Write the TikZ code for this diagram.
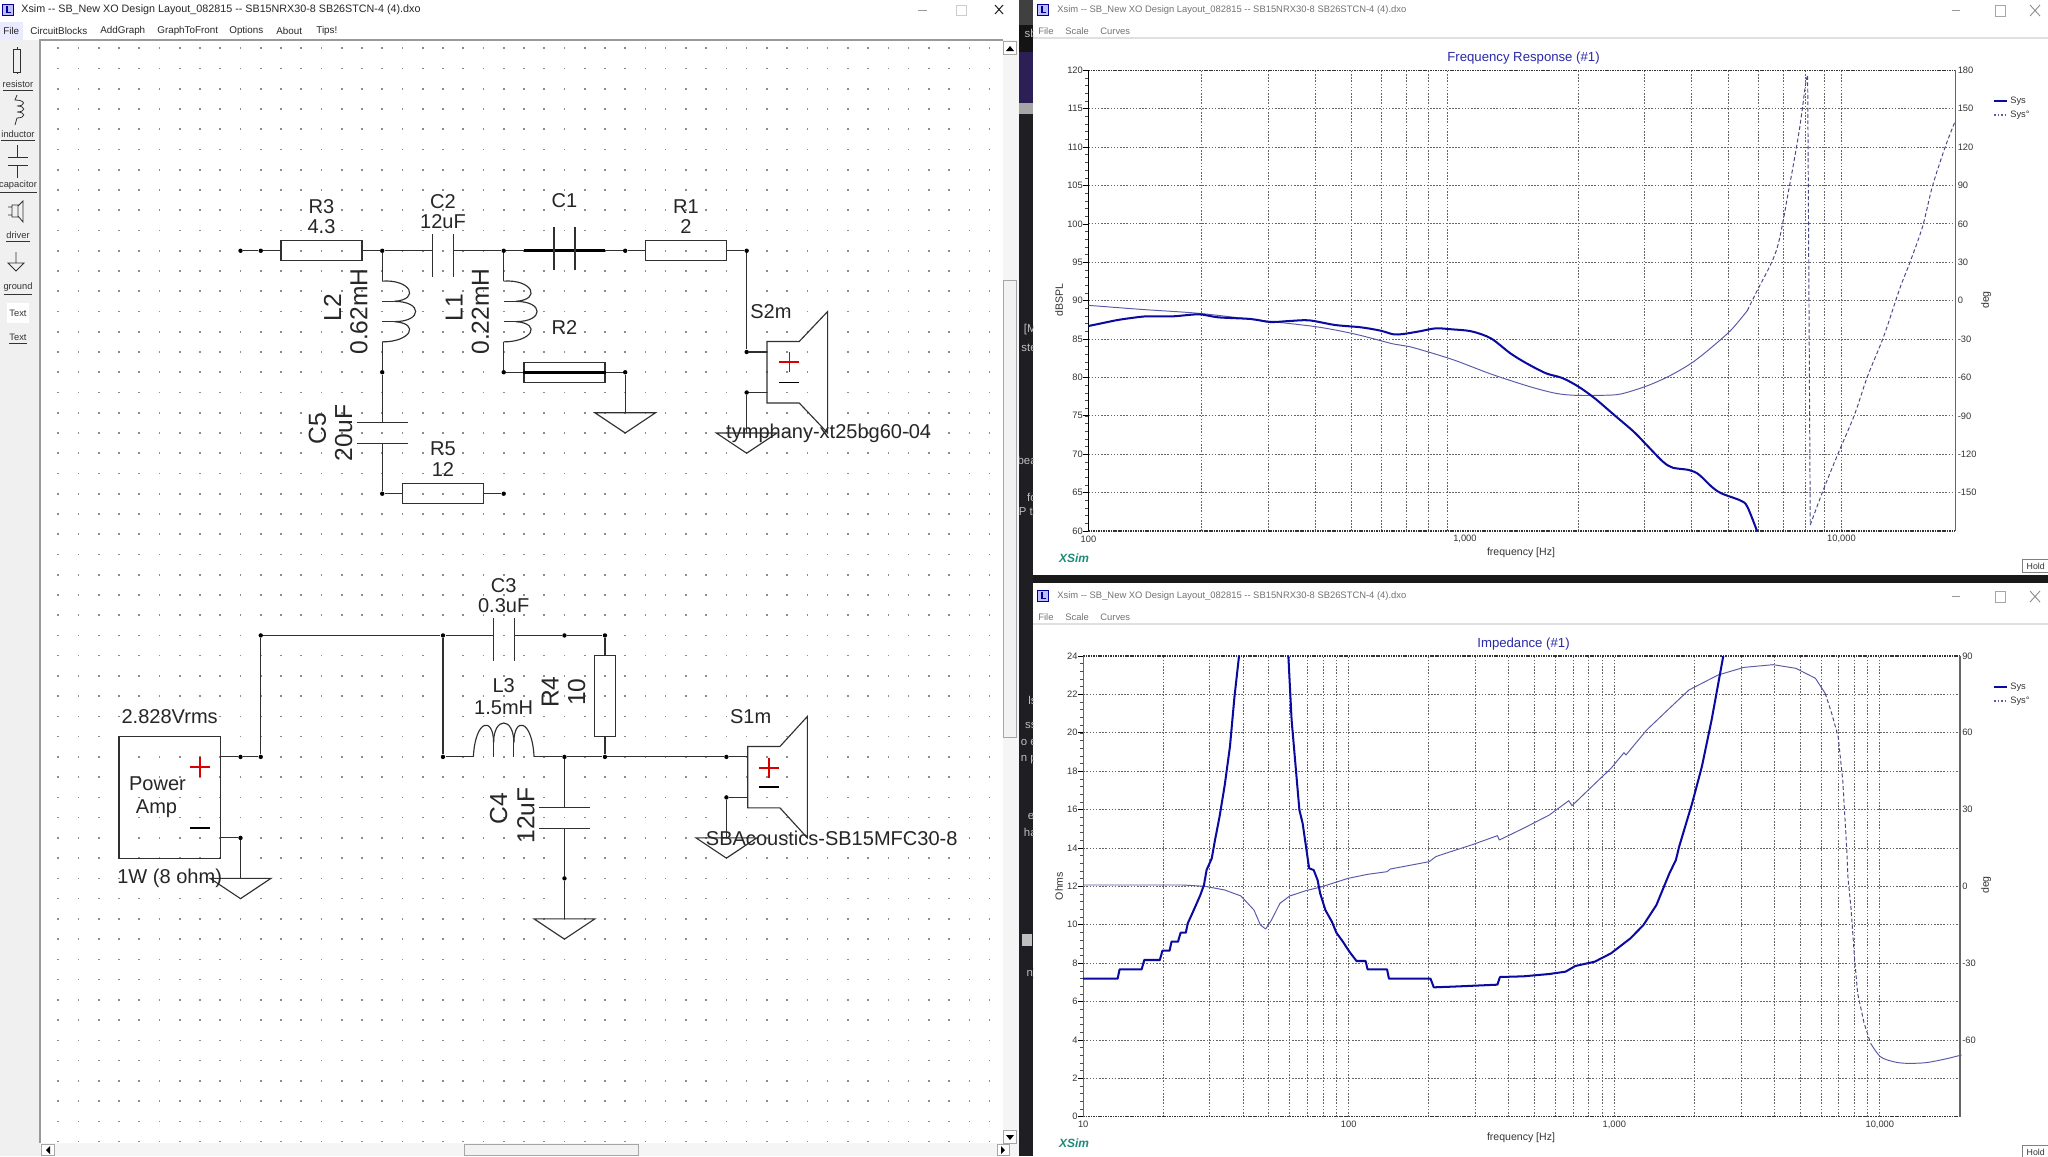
\documentclass[tikz,border=0pt]{standalone}
\usepackage{fontspec}
\setmainfont{Liberation Sans}
\newcommand\fpx[1]{\fontsize{#1}{#1}\selectfont}
\newcommand\wintitle{Xsim -{}- SB\_New XO Design Layout\_082815 -{}- SB15NRX30-8 SB26STCN-4 (4).dxo}
\definecolor{wirecol}{HTML}{303030}
\definecolor{sysblue}{HTML}{0A0AA0}
\definecolor{phaseblue}{HTML}{5A5AA8}
\definecolor{titleblue}{HTML}{2A2AA8}
\definecolor{xsimgreen}{HTML}{1C8C78}
\definecolor{stripdark}{HTML}{1E1E23}
\definecolor{stripviolet}{HTML}{2B1F55}
\tikzstyle{wire} = [line width=0.65pt,draw=wirecol]
\tikzstyle{heavywire} = [line width=1.9pt,draw=black]
\tikzstyle{joint} = [circle,fill=black,minimum size=2.5pt,inner sep=0pt]
\tikzstyle{griddot} = [fill=black!45]
\tikzstyle{resistor} = [rectangle,draw=wirecol,line width=0.65pt,minimum width=1.62cm,minimum height=0.405cm,inner sep=0pt]
\tikzstyle{resistorv} = [rectangle,draw=wirecol,line width=0.65pt,minimum width=0.405cm,minimum height=1.62cm,inner sep=0pt]
\tikzstyle{capacitor} = [rectangle,minimum width=0.405cm,minimum height=0.85cm,inner sep=0pt]
\tikzstyle{capacitorh} = [rectangle,minimum width=1.01cm,minimum height=0.405cm,inner sep=0pt]
\tikzstyle{coil} = [rectangle,minimum width=0.3cm,minimum height=1.215cm,inner sep=0pt]
\tikzstyle{coilh} = [rectangle,minimum width=1.215cm,minimum height=0.3cm,inner sep=0pt]
\tikzstyle{driverbox} = [rectangle,minimum width=0.63cm,minimum height=1.215cm,inner sep=0pt]
\tikzstyle{ampbox} = [rectangle,draw=wirecol,line width=0.65pt,minimum width=2.025cm,minimum height=2.43cm,inner sep=0pt]
\tikzstyle{lab} = [inner sep=0pt,text=black!85,font=\fpx{11.4}]
\tikzstyle{rotlab} = [inner sep=0pt,text=black!85,rotate=90,font=\fpx{14}]
\tikzstyle{menutext} = [anchor=west,inner sep=0pt,text=black!85,font=\fpx{5.6}]
\tikzstyle{wintext} = [anchor=west,inner sep=0pt,text=black!85,font=\fpx{6.12}]
\tikzstyle{toollab} = [inner sep=0pt,text=black!80,font=\fpx{5.3}]
\tikzstyle{greytitle} = [anchor=west,inner sep=0pt,text=black!55,font=\fpx{5.35}]
\tikzstyle{tick} = [inner sep=0pt,text=black!80,font=\fpx{5.3}]
\tikzstyle{axislab} = [inner sep=0pt,text=black!80,font=\fpx{6}]
\tikzstyle{plottitle} = [inner sep=0pt,text=titleblue,font=\fpx{7.5}]
\tikzstyle{xsimlab} = [inner sep=0pt,text=xsimgreen,font=\fpx{6.8}\bfseries\itshape]
\tikzstyle{gridline} = [line width=0.45pt,draw=black!60,dash pattern=on 0.9pt off 0.9pt]
\tikzstyle{frameline} = [line width=0.7pt,draw=black!80,dash pattern=on 0.9pt off 0.5pt]
\tikzstyle{syscurve} = [line width=1.15pt,draw=sysblue,line join=round]
\tikzstyle{phasecurve} = [line width=0.55pt,draw=phaseblue,line join=round]
\tikzstyle{phasedash} = [line width=0.55pt,draw=phaseblue!80!black,dash pattern=on 2.2pt off 1.4pt]
\tikzstyle{holdbox} = [rectangle,draw=black!50,fill=white,line width=0.5pt,inner sep=1.2pt,minimum width=0.55cm,minimum height=0.27cm,font=\fpx{5},text=black!80]
\tikzstyle{scrollbtn} = [rectangle,draw=black!35,fill=black!5,line width=0.5pt,inner sep=0pt]
\tikzstyle{plotframe} = [x=0.012987cm,y=-0.006667cm]
\begin{document}
\begin{tikzpicture}[x=0.02cm,y=-0.02cm]
\useasboundingbox (0,0) rectangle (2048,1156);

\fill[white] (0,0) rectangle (2048,1156);
\fill[black!6] (0,40) rectangle (40,1156);
\fill[black!4] (40,1143) rectangle (1019,1156);
\fill[black!4] (1003,40) rectangle (1019,1143);
\fill[blue!8] (0,22) rectangle (23,40);

%strip behind the windows
\fill[stripdark] (1019,0) rectangle (1033,1156);
\fill[black!75] (1019,0) rectangle (1033,25);
\fill[black!92] (1019,25) rectangle (1033,52);
\fill[stripviolet] (1019,52) rectangle (1033,103);
\fill[black!35] (1019,103) rectangle (1033,114);
\begin{scope}
\clip (1019,0) rectangle (1033,1156);
\foreach \t/\y/\n in {sb/33/1,{[M}/330/2,ste/348/3,bea/460/4,fo/497/5,P tr/512/6,ls/700/7,ss/725/8,o e/742/9,n p/760/10,el/815/11,ha/832/12,n)/974/13}
 \node (frag\n) [anchor=east,inner sep=0pt,text=black!25,font=\fpx{6.5}] at (1037,\y) {\t};
\end{scope}
\fill[black!25] (1022,934) rectangle (1032,946);

\fill[black!90] (1033,575) rectangle (2048,583);

%window heads
\foreach \wx/\wy/\n in {8/10/1,1043/10/2,1043/596/3} {
 \node (icon\n) [rectangle,draw=blue!60!black,fill=blue!25,minimum size=0.22cm,inner sep=0pt] at (\wx,\wy) {};
 \draw[blue!60!black,line width=0.7pt] (icon\n.north) ++(-1,2) -- ++(0,6) -- ++(4,0);
}
\node (title1) [wintext] at (21,10) {\wintitle};
\node (title2) [greytitle] at (1057,10) {\wintitle};
\node (title3) [greytitle] at (1057,596) {\wintitle};
\foreach \t/\x in {File/3,CircuitBlocks/30,AddGraph/100,GraphToFront/157,Options/229,About/276,Tips!/316}
 \node (menu\x) [menutext] at (\x,31) {\t};
\foreach \t/\x in {File/1038,Scale/1065,Curves/1100} {
 \node (plotmenu\x) [greytitle] at (\x,31) {\t};
 \node (plotmenub\x) [greytitle] at (\x,617) {\t};
}
\draw[black!12,line width=0.6pt] (1033,38) -- (2048,38);
\draw[black!12,line width=0.6pt] (1033,624) -- (2048,624);

%window buttons
\foreach \x/\y in {1952/10,1952/596} \draw[black!40,line width=0.5pt] (\x,\y) -- (\x+8,\y);
\foreach \x/\y in {1995/5,1995/591} \draw[black!35,line width=0.5pt] (\x,\y) rectangle (\x+10,\y+11);
\foreach \x/\y in {2030/5,2030/591} \draw[black!45,line width=0.5pt] (\x,\y) -- (\x+10,\y+11) (\x+10,\y) -- (\x,\y+11);
\draw[black!40,line width=0.5pt] (918,10) -- (927,10);
\draw[black!20,line width=0.5pt] (956,5) rectangle (966,15);
\draw[black!85,line width=0.6pt] (995,5) -- (1003,14) (1003,5) -- (995,14);

%tool bar
\draw[wirecol,line width=0.45pt] (13.5,49) rectangle (20.5,72) (17,47) -- (17,49) (17,72) -- (17,74);
\draw[wirecol,line width=0.45pt] (17,95) -- (15,100) .. controls (26,100) and (26,106) .. (17,106) .. controls (26,106) and (26,112) .. (17,112) .. controls (26,112) and (26,118) .. (17,118) -- (15,125);
\draw[wirecol,line width=0.45pt] (17.5,145) -- (17.5,157) (8,157) -- (28,157) (8,165) -- (28,165) (17.5,165) -- (17.5,178);
\draw[wirecol,line width=0.45pt] (8,207) -- (12,207) (12,205) rectangle (18,217) (8,215) -- (12,215) (18,206) -- (23,201) -- (23,222) -- (18,216);
\draw[wirecol,line width=0.45pt] (16,252) -- (16,263) (8,263) -- (24,263) -- (16,271) -- cycle;
\fill[white] (7,303) rectangle (29,323);
\foreach \t/\y/\n in {\underline{resistor}/86/1,\underline{inductor}/136/2,\underline{capacitor}/187/3,\underline{driver}/237/4,\underline{ground}/289/5,Text/313/6,\underline{Text}/339/7}
 \node (tool\n) [toollab] at (18,\y) {\t};

%canvas edge and scroll bars
\draw[black!40,line width=0.7pt] (40,1143) -- (40,40) -- (1003,40);
\node (thumbv) [scrollbtn,minimum width=0.26cm,minimum height=9.14cm] at (1010,508.5) {};
\node (thumbh) [scrollbtn,minimum width=3.48cm,minimum height=0.22cm] at (551,1150) {};
\node (upbtn) [scrollbtn,fill=white,minimum width=0.27cm,minimum height=0.27cm] at (1010,48) {};
\node (downbtn) [scrollbtn,fill=white,minimum width=0.27cm,minimum height=0.27cm] at (1010,1137) {};
\node (leftbtn) [scrollbtn,fill=white,minimum width=0.27cm,minimum height=0.22cm] at (48,1150) {};
\node (rightbtn) [scrollbtn,fill=white,minimum width=0.24cm,minimum height=0.22cm] at (1003,1150) {};
\fill[black] (1006,51) -- (1014,51) -- (1010,46) -- cycle;
\fill[black] (1006,1135) -- (1014,1135) -- (1010,1140) -- cycle;
\fill[black] (50,1146) -- (50,1154) -- (46,1150) -- cycle;
\fill[black] (1001,1146) -- (1001,1154) -- (1005,1150) -- cycle;

%the schematic, in grid units
\begin{scope}[shift={(58.3,48.3)},x=0.405cm,y=-0.405cm]
\foreach \i in {0,...,46}
 \foreach \j in {0,...,54}
  \fill[griddot] (\i-0.04,\j-0.04) rectangle (\i+0.04,\j+0.04);

%joints, tweeter side
\node (a9) [joint] at (9,10) {};
\node (a10) [joint] at (10,10) {};
\node (a16) [joint] at (16,10) {};
\node (a22) [joint] at (22,10) {};
\node (a28) [joint] at (28,10) {};
\node (a34) [joint] at (34,10) {};
\node (b34) [joint] at (34,15) {};
\node (c34) [joint] at (34,17) {};
\node (d16) [joint] at (16,16) {};
\node (d22) [joint] at (22,16) {};
\node (d28) [joint] at (28,16) {};
\node (e16) [joint] at (16,22) {};
\node (e22) [joint] at (22,22) {};

\node (r3) [resistor] at (13,10) {};
\node (c2) [capacitor] at (19,10.25) {};
\node (c1) [capacitor] at (25,9.9) {};
\node (c1bar) [minimum width=1.62cm,inner sep=0pt] at (25,10) {};
\node (r1) [resistor] at (31,10) {};
\node (r2) [resistor] at (25,16) {};
\node (r5) [resistor] at (19,22) {};
\node (l2) [coil] at (16,13) {};
\node (l1) [coil] at (22,13) {};
\node (c5) [capacitorh] at (16,19) {};
\node (s2) [driverbox] at (35.8,16) {};
\coordinate (g1) at (28,18);
\coordinate (g2) at (34,19);

\draw[wire] (a9) -- (a10);
\draw[wire] (a10) -- (r3);
\draw[wire] (r3) -- (a16);
\draw[wire] (a16) -- (a16 -| c2.west);
\draw[wire] (a16 -| c2.east) -- (a22);
\draw[wire] (a22) -- (a28);
\draw[heavywire] (c1bar.west) -- (c1bar.east);
\draw[wire] (a28) -- (r1);
\draw[wire] (r1) -- (a34);
\draw[wire] (a34) -- (b34);
\draw[wire] (b34) -- (b34 -| s2.west);
\draw[wire] (c34) -- (c34 -| s2.west);
\draw[wire] (c34) -- (g2);
\draw[wire] (a16) -- (16,11.5);
\draw[wire] (a22) -- (22,11.5);
\draw[wire] (16,14.5) -- (d16);
\draw[wire] (22,14.5) -- (d22);
\draw[wire] (d16) -- (c5.north);
\draw[wire] (c5.south) -- (e16);
\draw[wire] (e16) -- (r5);
\draw[wire] (r5) -- (e22);
\draw[wire] (d22) -- (d28);
\draw[heavywire] (r2.west) -- (r2.east);
\draw[wire] (d28) -- (g1);

%joints, woofer side
\node (p9) [joint] at (9,35) {};
\node (p10) [joint] at (10,35) {};
\node (q10) [joint] at (10,29) {};
\node (q19) [joint] at (19,29) {};
\node (q25) [joint] at (25,29) {};
\node (q27) [joint] at (27,29) {};
\node (p19) [joint] at (19,35) {};
\node (p25) [joint] at (25,35) {};
\node (p27) [joint] at (27,35) {};
\node (p33) [joint] at (33,35) {};
\node (n33) [joint] at (33,37) {};
\node (n9) [joint] at (9,39) {};
\node (m25) [joint] at (25,41) {};

\node (amp) [ampbox] at (5.5,37) {};
\node (c3) [capacitor] at (22,29.2) {};
\node (r4) [resistorv] at (27,32) {};
\node (l3) [coilh] at (22,34.2) {};
\node (c4) [capacitorh] at (25,38) {};
\node (s1) [driverbox] at (34.85,36) {};
\coordinate (g3) at (9,41);
\coordinate (g4) at (25,43);
\coordinate (g5) at (33,39);

\draw[wire] (amp.east |- p9) -- (p9);
\draw[wire] (p9) -- (p10);
\draw[wire] (p10) -- (q10);
\draw[wire] (q10) -- (q19);
\draw[wire] (q19) -- (q19 -| c3.west);
\draw[wire] (q19 -| c3.east) -- (q25);
\draw[wire] (q25) -- (q27);
\draw[wire] (q27) -- (r4);
\draw[wire] (q19) -- (p19);
\draw[wire] (p19) -- (20.5,35);
\draw[wire] (23.5,35) -- (p25);
\draw[wire] (p25) -- (p27);
\draw[wire] (r4) -- (p27);
\draw[wire] (p27) -- (p33);
\draw[wire] (p33) -- (p33 -| s1.west);
\draw[wire] (n33) -- (n33 -| s1.west);
\draw[wire] (n33) -- (g5);
\draw[wire] (p25) -- (c4.north);
\draw[wire] (c4.south) -- (m25);
\draw[wire] (m25) -- (g4);
\draw[wire] (amp.east |- n9) -- (n9);
\draw[wire] (n9) -- (g3);

%plates
\foreach \c in {c1,c2,c3}
 \draw[wire] (\c.north west) -- (\c.south west) (\c.north east) -- (\c.south east);
\foreach \c in {c4,c5}
 \draw[wire] (\c.north west) -- (\c.north east) (\c.south west) -- (\c.south east);

%coils
\foreach \cx in {16,22} {
 \draw[wire] (\cx,11.5) .. controls (\cx+1.4,11.4) and (\cx+1.9,12.4) .. (\cx+0.6,12.5);
 \draw[wire] (\cx+0.6,12.5) .. controls (\cx+2,12.5) and (\cx+2,13.5) .. (\cx+0.6,13.5);
 \draw[wire] (\cx+0.6,13.5) .. controls (\cx+1.9,13.6) and (\cx+1.4,14.5) .. (\cx,14.5);
 \draw[wire,line width=0.9pt] (\cx,12.5) -- (\cx+0.6,12.5) (\cx,13.5) -- (\cx+0.6,13.5);
}
\draw[wire] (20.5,35) .. controls (20.6,33.1) and (21.5,33) .. (21.5,34.3);
\draw[wire] (21.5,34.3) .. controls (21.5,33) and (22.5,33) .. (22.5,34.3);
\draw[wire] (22.5,34.3) .. controls (22.5,33) and (23.4,33.1) .. (23.5,35);
\draw[wire] (21.5,35) -- (21.5,34.3) (22.5,35) -- (22.5,34.3);

%drivers
\draw[wire] (s2.south east) -- (s2.south west) -- (s2.north west) -- (s2.north east) -- (38,13) -- (38,19) -- (s2.south east);
\draw[wire] (s1.south east) -- (s1.south west) -- (s1.north west) -- (s1.north east) -- (37,33) -- (37,39) -- (s1.south east);
\foreach \g in {g1,g2,g3,g4,g5}
 \draw[wire] (\g) ++(-1.5,0) -- ++(3,0) -- ++(-1.5,1) -- cycle;
\foreach \px/\py in {36.1/15.5,35.1/35.55,7/35.5}
 \draw[red!85!black,line width=0.75pt] (\px-0.5,\py) -- (\px+0.5,\py) (\px,\py-0.5) -- (\px,\py+0.5);
\foreach \px/\py in {36.1/16.5,35.1/36.5,7/38.5}
 \draw[black,line width=0.9pt] (\px-0.5,\py) -- (\px+0.5,\py);

%labels
\node (labr3) [lab] at (13,7.8) {R3};
\node (valr3) [lab] at (13,8.8) {4.3};
\node (labc2) [lab] at (19,7.55) {C2};
\node (valc2) [lab] at (19,8.55) {12uF};
\node (labc1) [lab] at (25,7.5) {C1};
\node (labr1) [lab] at (31,7.8) {R1};
\node (valr1) [lab] at (31,8.8) {2};
\node (labr2) [lab] at (25,13.8) {R2};
\node (labr5) [lab] at (19,19.8) {R5};
\node (valr5) [lab] at (19,20.8) {12};
\node (labs2) [lab] at (35.2,13) {S2m};
\node (names2) [lab] at (38.05,19) {tymphany-xt25bg60-04};
\node (labl2) [rotlab] at (13.55,12.8) {L2};
\node (vall2) [rotlab] at (14.85,13) {0.62mH};
\node (labl1) [rotlab] at (19.55,12.8) {L1};
\node (vall1) [rotlab] at (20.85,13) {0.22mH};
\node (labc5) [rotlab] at (12.8,18.8) {C5};
\node (valc5) [rotlab] at (14.1,19) {20uF};
\node (labc3) [lab] at (22,26.55) {C3};
\node (valc3) [lab] at (22,27.55) {0.3uF};
\node (labl3) [lab] at (22,31.5) {L3};
\node (vall3) [lab] at (22,32.55) {1.5mH};
\node (labr4) [rotlab] at (24.3,31.8) {R4};
\node (valr4) [rotlab] at (25.6,31.8) {10};
\node (labc4) [rotlab] at (21.75,37.55) {C4};
\node (valc4) [rotlab] at (23.1,37.9) {12uF};
\node (labs1) [lab] at (34.2,33) {S1m};
\node (names1) [lab] at (38.2,39) {SBAcoustics-SB15MFC30-8};
\node (volts) [lab] at (5.5,33) {2.828Vrms};
\node (power) [lab] at (4.9,36.3) {Power};
\node (ampl) [lab] at (4.85,37.55) {Amp};
\node (watts) [lab] at (5.5,41) {1W (8 ohm)};
\end{scope}

%frequency response
\begin{scope}[shift={(1088.4,531)},x=7.532cm,y=0.768cm]
\foreach \fr in {200,300,...,900,2000,3000,...,9000,10000}
 \draw[gridline] ({log10(\fr)-2},0) -- ({log10(\fr)-2},12);
\foreach \n in {1,...,11}
 \draw[gridline] (0,\n) -- (2.302,\n);
\draw[frameline] (0,0) -- (2.302,0);
\draw[frameline] (0,12) -- (2.302,12);
\draw[black,line width=0.6pt] (0,0) -- (0,12);
\draw[black!60,line width=0.7pt] (2.302,0) -- (2.302,12);
\foreach \n in {0,...,60}
 \draw[black!70,line width=0.3pt] (0,\n/5) -- ++(-2pt,0);
\foreach \v [count=\n from 0] in {60,65,...,120} {
 \node (dbl\n) [tick,anchor=east] at (-0.014,\n) {\v};
 \draw[black,line width=0.4pt] (0,\n) -- ++(-3pt,0);
}
\foreach \d [count=\n from 1] in {-150,-120,...,180} {
 \node (degl\n) [tick,anchor=west] at (2.308,\n) {\d};
}
\node (frx1) [tick] at (0,-0.21) {100};
\node (frx2) [tick] at (1,-0.21) {1,000};
\node (frx3) [tick] at (2,-0.21) {10,000};
\end{scope}
\node (frtitle) [plottitle] at (1523.5,58.5) {Frequency Response (\#1)};
\node (frxlab) [axislab] at (1521,553) {frequency [Hz]};
\node (frylab) [axislab,rotate=90] at (1059,300) {dBSPL};
\node (frdeg) [axislab,rotate=90] at (1986,300) {deg};
\node (frxsim) [xsimlab] at (1074,558) {XSim};
\node (frhold) [holdbox,anchor=west] at (2021.5,566) {Hold};
\draw[sysblue,line width=1.2pt] (1994,101) -- (2007,101);
\draw[phaseblue,line width=0.8pt,dash pattern=on 1pt off 1pt] (1994,115) -- (2007,115);
\node (frsys) [tick,anchor=west] at (2010,101.5) {Sys};
\node (frsysd) [tick,anchor=west] at (2010,115) {Sys°};

\begin{scope}[shift={(1030,290)},plotframe]
\draw[phasecurve] plot[smooth] coordinates {(90,46) (170,58) (260,70) (350,90) (440,110) (500,132) (560,162) (585,170) (650,208) (710,252) (770,290) (810,310) (840,316) (880,316) (910,312) (950,288) (985,258) (1020,218) (1050,172) (1080,120) (1105,62)};
\draw[phasedash] plot[smooth] coordinates {(1105,62) (1118,10) (1150,-120) (1169,-302) (1185,-478) (1195,-620) (1198,-642)};
\draw[phasedash] (1198,-642) -- (1202,705);
\draw[phasedash] plot[smooth] coordinates {(1202,705) (1222,600) (1245,490) (1270,375) (1290,260) (1315,140) (1340,-5) (1355,-80) (1375,-190) (1390,-310) (1410,-430) (1425,-505)};
\draw[syscurve] plot[smooth] coordinates {(90,108) (110,100) (135,90) (160,83) (180,79) (220,79) (260,73) (290,82) (340,87) (370,96) (400,93) (430,91) (470,105) (510,112) (540,122) (560,133) (575,132) (600,124) (625,115) (650,118) (680,124) (710,145) (740,190) (765,220) (795,250) (820,264) (845,290) (870,325) (900,375) (930,425) (950,465) (975,515) (990,533) (1015,540) (1030,553) (1050,590) (1065,610) (1095,632) (1105,650) (1120,723)};
\end{scope}

%impedance
\begin{scope}[shift={(1083.2,1116.7)},x=5.312cm,y=0.768cm]
\foreach \fr in {20,30,...,90,100,200,...,900,1000,2000,...,9000,10000}
 \draw[gridline] ({log10(\fr)-1},0) -- ({log10(\fr)-1},12);
\foreach \n in {1,...,11}
 \draw[gridline] (0,\n) -- (3.302,\n);
\draw[frameline] (0,0) -- (3.302,0);
\draw[frameline] (0,12) -- (3.302,12);
\draw[black!60,line width=0.6pt] (0,0) -- (0,12);
\draw[black!60,line width=0.7pt] (3.302,0) -- (3.302,12);
\foreach \n in {0,...,60}
 \draw[black!70,line width=0.3pt] (0,\n/5) -- ++(-2pt,0);
\foreach \v [count=\n from 0] in {0,2,...,24} {
 \node (ohl\n) [tick,anchor=east] at (-0.02,\n) {\v};
 \draw[black,line width=0.4pt] (0,\n) -- ++(-3pt,0);
}
\foreach \d/\n in {-60/2,-30/4,0/6,30/8,60/10,90/12} {
 \node (phl\n) [tick,anchor=west] at (3.309,\n) {\d};
}
\node (imx1) [tick] at (0,-0.21) {10};
\node (imx2) [tick] at (1,-0.21) {100};
\node (imx3) [tick] at (2,-0.21) {1,000};
\node (imx4) [tick] at (3,-0.21) {10,000};
\end{scope}
\node (imtitle) [plottitle] at (1523.5,644.5) {Impedance (\#1)};
\node (imxlab) [axislab] at (1521,1138) {frequency [Hz]};
\node (imylab) [axislab,rotate=90] at (1059,886) {Ohms};
\node (imdeg) [axislab,rotate=90] at (1986,885) {deg};
\node (imxsim) [xsimlab] at (1074,1143) {XSim};
\node (imhold) [holdbox,anchor=west] at (2021.5,1152) {Hold};
\draw[sysblue,line width=1.2pt] (1994,687) -- (2007,687);
\draw[phaseblue,line width=0.8pt,dash pattern=on 1pt off 1pt] (1994,701) -- (2007,701);
\node (imsys) [tick,anchor=west] at (2010,687.5) {Sys};
\node (imsysd) [tick,anchor=west] at (2010,701) {Sys°};

\begin{scope}[shift={(1030,860)},plotframe]
\draw[phasecurve] (82,75) -- (235,75) -- (270,79) -- (300,90) -- (325,108) -- (345,150) -- (355,195) -- (363,207) -- (372,180) -- (385,130) -- (400,108) -- (425,92) -- (450,80) -- (490,55) -- (520,43) -- (550,35) -- (555,27) -- (615,5) -- (625,-10) -- (640,-20) -- (680,-45) -- (720,-73) -- (723,-60) -- (760,-95) -- (800,-135) -- (830,-178) -- (835,-163) -- (860,-210) -- (895,-275) -- (915,-322) -- (918,-315) -- (950,-390) -- (985,-455) -- (1015,-510) -- (1060,-555) -- (1100,-578) -- (1145,-586) -- (1180,-575) -- (1210,-545) -- (1225,-500);
\draw[phasedash] (1225,-500) -- (1235,-440) -- (1245,-370) -- (1252,-240) -- (1258,-40) -- (1260,50) -- (1265,150) -- (1270,290) -- (1275,400) -- (1285,490) -- (1295,550);
\draw[phasecurve] plot[smooth] coordinates {(1295,550) (1310,590) (1330,605) (1350,610) (1380,608) (1410,597) (1435,585)};
\draw[syscurve] (82,356) -- (135,356) -- (138,328) -- (172,328) -- (176,300) -- (200,300) -- (204,272) -- (215,272) -- (218,245) -- (228,245) -- (232,218) -- (240,218) -- (243,190) -- (250,160) -- (262,107) -- (268,75) -- (272,30) -- (280,-5) -- (285,-60) -- (292,-130) -- (300,-225) -- (308,-340) -- (315,-490) -- (322,-612);
\draw[syscurve] (398,-612) -- (403,-420) -- (415,-150) -- (420,-110) -- (430,25) -- (437,30) -- (443,60) -- (447,100) -- (455,150) -- (465,185) -- (472,218) -- (482,245) -- (492,275) -- (503,303) -- (517,303) -- (520,328) -- (550,328) -- (553,356) -- (617,356) -- (622,382) -- (650,380) -- (720,374) -- (724,351) -- (760,349) -- (800,342) -- (825,335) -- (840,318) -- (870,305) -- (895,280) -- (925,235) -- (945,195) -- (965,135) -- (985,40) -- (995,0) -- (1000,-40) -- (1020,-170) -- (1035,-280) -- (1050,-420) -- (1068,-612);
\end{scope}
\end{tikzpicture}
\end{document}
